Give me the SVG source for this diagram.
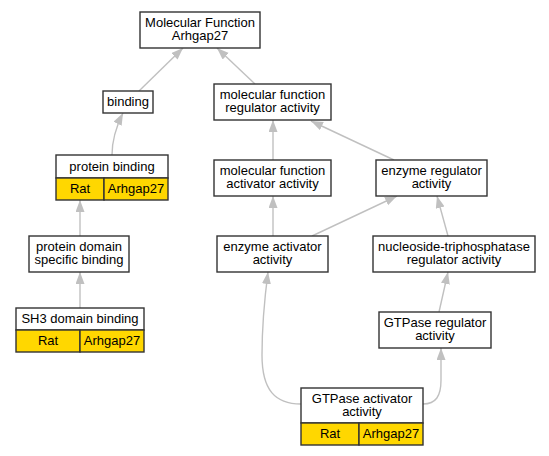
<svg xmlns="http://www.w3.org/2000/svg" width="549" height="456" viewBox="0 0 549 456">
<defs>
<marker id="ah" markerUnits="userSpaceOnUse" markerWidth="13" markerHeight="10" refX="12" refY="4.5" orient="auto">
<path d="M0,0 L12,4.5 L0,9 z" fill="#c0c0c0"/>
</marker>
<style>
.n{fill:#ffffff;stroke:#333333;stroke-width:1.4}
.g{fill:#ffd700;stroke:#333333;stroke-width:1.4}
.d{stroke:#333333;stroke-width:1.4}
text{font-family:"Liberation Sans",Arial,sans-serif;font-size:13px;fill:#000000;text-anchor:middle}
.e path{fill:none;stroke:#c0c0c0;stroke-width:1.4;marker-end:url(#ah)}
</style>
</defs>
<rect width="549" height="456" fill="#ffffff"/>
<g class="e" id="connectors">
<path d="M139,91 L183,48"/>
<path d="M255,84 L217,48"/>
<path d="M112,155 C112,140 116,127 123,113"/>
<path d="M80,236 L80,200"/>
<path d="M80,308 L80,272"/>
<path d="M273,160 L273,120"/>
<path d="M394,160 L311,121"/>
<path d="M273,236 L273,196"/>
<path d="M312,236 L397,196"/>
<path d="M448,236 L437,196"/>
<path d="M439,312 L448,272"/>
<path d="M301,404 C275,404 262,390 262,355 C262,320 265,295 268,272"/>
<path d="M423,404 C436,404 441,396 441,380 L441,348"/>
</g>
<g id="mf">
<rect class="n" x="140" y="12" width="120" height="36"/>
<text x="200" y="26.5">Molecular Function</text>
<text x="200" y="39.5">Arhgap27</text>
</g>
<g id="binding">
<rect class="n" x="103" y="91" width="50" height="22"/>
<text x="128" y="106">binding</text>
</g>
<g id="mfreg">
<rect class="n" x="214" y="84" width="117" height="36"/>
<text x="272.5" y="98.5">molecular function</text>
<text x="272.5" y="111.5">regulator activity</text>
</g>
<g id="pb">
<rect class="n" x="56" y="155" width="112" height="23"/>
<text x="112" y="170.5">protein binding</text>
<rect class="g" x="56" y="178" width="48" height="22"/>
<rect class="g" x="104" y="178" width="64" height="22"/>
<text x="80" y="193">Rat</text>
<text x="136" y="193">Arhgap27</text>
</g>
<g id="mfact">
<rect class="n" x="214" y="160" width="117" height="36"/>
<text x="272.5" y="174.5">molecular function</text>
<text x="272.5" y="187.5">activator activity</text>
</g>
<g id="enzreg">
<rect class="n" x="376" y="160" width="111" height="36"/>
<text x="431.5" y="174.5">enzyme regulator</text>
<text x="431.5" y="187.5">activity</text>
</g>
<g id="pdsb">
<rect class="n" x="29" y="236" width="100" height="36"/>
<text x="79" y="250.5">protein domain</text>
<text x="79" y="263.5">specific binding</text>
</g>
<g id="enzact">
<rect class="n" x="217" y="236" width="111" height="36"/>
<text x="272.5" y="250.5">enzyme activator</text>
<text x="272.5" y="263.5">activity</text>
</g>
<g id="ntp">
<rect class="n" x="373" y="236" width="162" height="36"/>
<text x="454" y="250.5">nucleoside-triphosphatase</text>
<text x="454" y="263.5">regulator activity</text>
</g>
<g id="sh3">
<rect class="n" x="16" y="308" width="128" height="22"/>
<text x="80" y="323">SH3 domain binding</text>
<rect class="g" x="16" y="330" width="64" height="22"/>
<rect class="g" x="80" y="330" width="64" height="22"/>
<text x="48" y="345">Rat</text>
<text x="112" y="345">Arhgap27</text>
</g>
<g id="gtpreg">
<rect class="n" x="379" y="312" width="112" height="36"/>
<text x="435" y="326.5">GTPase regulator</text>
<text x="435" y="339.5">activity</text>
</g>
<g id="gtpact">
<rect class="n" x="301" y="388" width="122" height="35"/>
<text x="362" y="402.5">GTPase activator</text>
<text x="362" y="415.5">activity</text>
<rect class="g" x="301" y="423" width="58" height="22"/>
<rect class="g" x="359" y="423" width="64" height="22"/>
<text x="330" y="438">Rat</text>
<text x="391" y="438">Arhgap27</text>
</g>
</svg>
